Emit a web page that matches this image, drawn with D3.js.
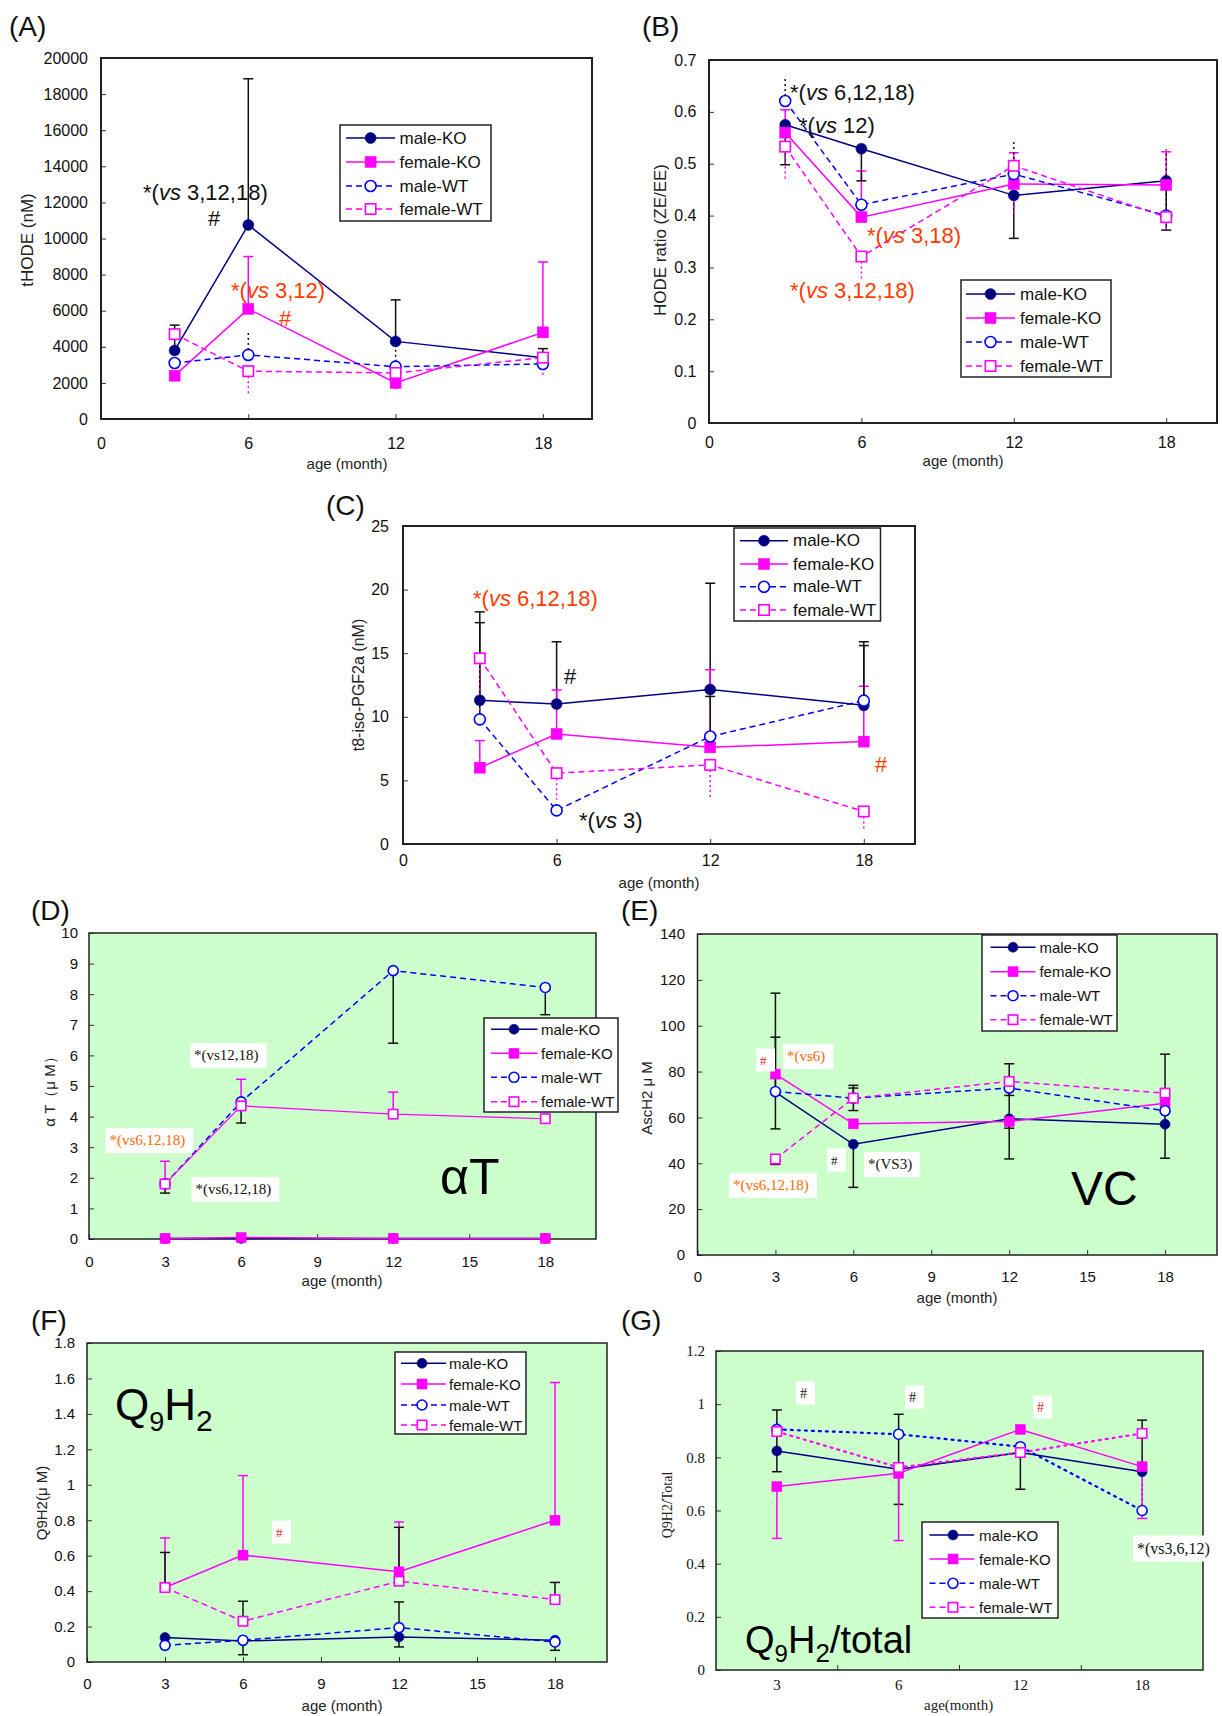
<!DOCTYPE html>
<html><head><meta charset="utf-8">
<script src="https://cdn.jsdelivr.net/npm/d3@7"></script>
<style>body{margin:0;background:#fff}</style>
</head><body>
<script>
// ---------------- DATA ----------------
const seriesNames = ["male-KO", "female-KO", "male-WT", "female-WT"];
const ages = [3, 6, 12, 18];
const xTicksWide = [0, 6, 12, 18];
const xTicksFine = [0, 3, 6, 9, 12, 15, 18];
const ageCats = ["3", "6", "12", "18"];

// (A) tHODE (nM) ; series order = seriesNames
const tHODE = [[3800, 10750, 4300, 3400], [2400, 6100, 2000, 4800], [3100, 3550, 2900, 3050], [4700, 2650, 2550, 3400]];
const tHODE_hi = [[5200, 18850, 6600, 3900], [null, 9000, null, 8700], [null, 4800, 4100, null], null];
const tHODE_lo = [null, null, null, [null, 1350, 1650, 2450]];
const tHODE_yTicks = [0, 2000, 4000, 6000, 8000, 10000, 12000, 14000, 16000, 18000, 20000];

// (B) HODE ratio (ZE/EE)
const hodeRatio = [[0.575, 0.529, 0.439, 0.467], [0.560, 0.397, 0.461, 0.459], [0.621, 0.421, 0.480, 0.400], [0.533, 0.321, 0.496, 0.397]];
const hodeRatio_hi = [null, [0.604, 0.486, 0.521, 0.523], [0.668, null, 0.547, 0.528], null];
const hodeRatio_lo = [[0.498, 0.467, 0.356, 0.372], null, null, [0.469, 0.276, 0.405, 0.372]];
const hodeRatio_yTicks = [0, 0.1, 0.2, 0.3, 0.4, 0.5, 0.6, 0.7];

// (C) t8-iso-PGF2a (nM)
const isoP = [[11.3, 11.0, 12.15, 10.9], [6.0, 8.65, 7.6, 8.05], [9.8, 2.64, 8.45, 11.27], [14.6, 5.57, 6.22, 2.56]];
const isoP_hi = [[18.25, 15.9, 20.5, 15.9], [8.13, 12.1, 13.7, 12.4], [17.4, null, 11.6, 15.6], null];
const isoP_lo = [null, null, null, [9.2, 3.48, 3.6, 1.12]];
const isoP_yTicks = [0, 5, 10, 15, 20, 25];

// (D) alpha-T (uM)
const alphaT = [[0.02, 0.02, 0.02, 0.02], [0.02, 0.05, 0.02, 0.02], [1.80, 4.48, 8.77, 8.22], [1.80, 4.35, 4.08, 3.93]];
const alphaT_hi = [null, null, null, [2.54, 5.22, 4.80, null]];
const alphaT_lo = [null, null, [1.50, 3.79, 6.40, 7.33], null];
const alphaT_yTicks = [0, 1, 2, 3, 4, 5, 6, 7, 8, 9, 10];

// (E) AscH2 (uM)
const ascH2 = [[71.0, 48.3, 59.4, 57.05], [78.9, 57.2, 58.2, 66.2], [71.3, 68.4, 72.8, 62.9], [41.9, 68.4, 75.7, 70.6]];
const ascH2_hi = [[114.2, null, 83.4, 87.6], null, [95.0, 74.0, null, null], [null, 72.8, null, null]];
const ascH2_lo = [[null, 29.5, 41.9, 42.2], [null, null, 55.3, null], [55.0, 63.0, 69.6, null], [39.5, null, null, null]];
const ascH2_yTicks = [0, 20, 40, 60, 80, 100, 120, 140];

// (F) Q9H2 (uM)
const q9h2 = [[0.138, 0.119, 0.141, 0.123], [0.42, 0.603, 0.509, 0.80], [0.094, 0.123, 0.194, 0.113], [0.42, 0.23, 0.456, 0.352]];
const q9h2_hi = [null, [0.70, 1.052, 0.79, 1.577], [null, null, 0.339, null], [0.618, 0.343, 0.76, 0.449]];
const q9h2_lo = [[null, 0.041, 0.085, 0.066], null, null, null];
const q9h2_yTicks = [0, 0.2, 0.4, 0.6, 0.8, 1, 1.2, 1.4, 1.6, 1.8];

// (G) Q9H2 / total
const q9Ratio = [[0.824, 0.755, 0.818, 0.746], [0.69, 0.74, 0.905, 0.765], [0.905, 0.887, 0.84, 0.60], [0.897, 0.762, 0.818, 0.89]];
const q9Ratio_hi = [[0.978, 0.962, null, 0.94], null, [0.943, null, null, 0.70], null];
const q9Ratio_lo = [[0.746, 0.623, 0.68, null], [0.495, 0.487, null, 0.57], null, null];
const q9Ratio_yTicks = [0, 0.2, 0.4, 0.6, 0.8, 1, 1.2];

// ---------------- STYLE ----------------
const SANS = "'Liberation Sans', Arial, sans-serif";
const SERIF = "'Liberation Serif', 'Times New Roman', serif";
const NAVY = "#000080", MAG = "#ff00ff", BLUE = "#0000ff", BLK = "#111";
const RED = "#ff3c00", ORANGE = "#ff6a00", RED2 = "#ee1c1c";
const GREEN = "#ccffcc";
const baseSty = [
  {color: NAVY, mk: "fc", dash: null},
  {color: MAG, mk: "fs", dash: null},
  {color: BLUE, mk: "oc", dash: "6,4"},
  {color: MAG, mk: "os", dash: "6,4"}
];
const fmt1 = d => d === 0 ? "0" : d.toFixed(1);
const fmtG = d => String(+d.toFixed(1));

const W = 1222, H = 1716;
const svg = d3.select("body").append("svg").attr("width", W).attr("height", H)
  .attr("font-family", SANS);

function marker(g, type, cx, cy, s, color) {
  if (type === "fc" || type === "oc") {
    g.append("circle").attr("cx", cx).attr("cy", cy).attr("r", s)
      .attr("fill", type === "fc" ? color : "#fff")
      .attr("stroke", color).attr("stroke-width", type === "fc" ? 0.5 : 1.6);
  } else {
    const h = s - (type === "os" ? 0.3 : 0);
    g.append("rect").attr("x", cx - h).attr("y", cy - h).attr("width", 2 * h).attr("height", 2 * h)
      .attr("fill", type === "fs" ? color : "#fff")
      .attr("stroke", color).attr("stroke-width", type === "fs" ? 0.5 : 1.6);
  }
}

function richText(sel, str) {
  // "_xx_" -> italic
  const parts = str.split("_");
  parts.forEach((p, i) => {
    if (!p) return;
    sel.append("tspan").text(p).attr("font-style", i % 2 ? "italic" : "normal");
  });
}

function drawPanel(cfg) {
  const {l, r, t, b} = cfg.box;
  const g = svg.append("g");
  const font = cfg.tickFont || SANS;
  if (cfg.bg) g.append("rect").attr("x", l).attr("y", t).attr("width", r - l).attr("height", b - t).attr("fill", cfg.bg);

  let x, px;
  if (cfg.cats) {
    x = d3.scaleBand().domain(cfg.cats).range([l, r]).padding(0);
    px = j => x(cfg.cats[j]) + x.bandwidth() / 2;
  } else {
    x = d3.scaleLinear().domain([0, 20]).range([l, r]);
    px = j => x(ages[j]);
  }
  const y = d3.scaleLinear().domain([0, cfg.yTicks[cfg.yTicks.length - 1]]).range([b, t]);

  // Y axis
  const ya = g.append("g").attr("transform", `translate(${l},0)`)
    .call(d3.axisLeft(y).tickValues(cfg.yTicks).tickSize(-5).tickPadding(cfg.yPad).tickFormat(cfg.yFmt || (d => String(d))));
  ya.select(".domain").remove();
  ya.selectAll("text").attr("font-family", font).attr("font-size", cfg.fs).attr("fill", "#111");
  ya.selectAll("line").attr("stroke", "#333");

  // X axis
  const xpad = cfg.xLabY - b - 0.36 * cfg.fs;
  let xa;
  if (cfg.cats) {
    xa = g.append("g").attr("transform", `translate(0,${b})`)
      .call(d3.axisBottom(x).tickSize(0).tickPadding(xpad));
    cfg.cats.slice(1).forEach(c => {
      g.append("line").attr("x1", x(c)).attr("x2", x(c)).attr("y1", b).attr("y2", b - 5).attr("stroke", "#333");
    });
  } else {
    xa = g.append("g").attr("transform", `translate(0,${b})`)
      .call(d3.axisBottom(x).tickValues(cfg.xTicks).tickSize(-5).tickPadding(xpad).tickFormat(d => String(d)));
  }
  xa.select(".domain").remove();
  xa.selectAll("text").attr("font-family", font).attr("font-size", cfg.fs).attr("fill", "#111");
  xa.selectAll("line").attr("stroke", "#333");

  // frame
  g.append("rect").attr("x", l).attr("y", t).attr("width", r - l).attr("height", b - t)
    .attr("fill", "none").attr("stroke", "#222").attr("stroke-width", cfg.frameW || 2);

  const sty = baseSty.map((s, i) => Object.assign({}, s, (cfg.styOver || [])[i] || {}));

  // lines
  const line = d3.line().x((d, j) => px(j)).y(d => y(d));
  cfg.data.forEach((vals, i) => {
    const s = sty[i];
    g.append("path").attr("d", line(vals)).attr("fill", "none").attr("stroke", s.color)
      .attr("stroke-width", s.lw || 1.5).attr("stroke-dasharray", s.dash)
      .attr("stroke-linecap", s.cap || "butt");
  });

  // error bars
  const cw = cfg.capW || 5;
  [cfg.hi, cfg.lo].forEach(arr => {
    arr.forEach((tips, i) => {
      if (!tips) return;
      const es = cfg.err[i];
      tips.forEach((tip, j) => {
        if (tip == null) return;
        const xx = px(j), y0 = y(cfg.data[i][j]), y1 = y(tip);
        g.append("line").attr("x1", xx).attr("x2", xx).attr("y1", y0).attr("y2", y1)
          .attr("stroke", es.c).attr("stroke-width", 1.5).attr("stroke-dasharray", es.dash || null);
        if (es.cap) g.append("line").attr("x1", xx - cw).attr("x2", xx + cw).attr("y1", y1).attr("y2", y1)
          .attr("stroke", es.c).attr("stroke-width", 1.5);
      });
    });
  });

  // markers
  cfg.data.forEach((vals, i) => {
    const s = sty[i];
    vals.forEach((v, j) => marker(g, s.mk, px(j), y(v), cfg.ms, s.color));
  });

  // titles
  svg.append("text").attr("x", cfg.title.x).attr("y", cfg.title.y).attr("font-size", 28).attr("fill", "#111").text(cfg.title.text);
  svg.append("text").attr("transform", `translate(${cfg.ylab.x},${cfg.ylab.y}) rotate(-90)`)
    .attr("text-anchor", "middle").attr("dominant-baseline", "central")
    .attr("font-family", cfg.ylab.font || SANS).attr("font-size", cfg.ylab.fs).attr("fill", "#222").text(cfg.ylab.text);
  svg.append("text").attr("x", cfg.xlab.x).attr("y", cfg.xlab.y).attr("text-anchor", "middle").attr("dominant-baseline", "central")
    .attr("font-family", cfg.xlab.font || SANS).attr("font-size", cfg.xlab.fs || 15).attr("fill", "#222").text(cfg.xlab.text || "age (month)");

  // big label
  if (cfg.big) cfg.big(svg);

  // legend
  const L = cfg.legend;
  svg.append("rect").attr("x", L.x0).attr("y", L.y0).attr("width", L.x1 - L.x0).attr("height", L.y1 - L.y0)
    .attr("fill", "#fff").attr("stroke", "#222").attr("stroke-width", 1.5);
  seriesNames.forEach((nm, i) => {
    const s = baseSty[i], yy = L.rows[i];
    svg.append("line").attr("x1", L.lx0).attr("x2", L.lx1).attr("y1", yy).attr("y2", yy)
      .attr("stroke", s.color).attr("stroke-width", 1.5).attr("stroke-dasharray", s.dash);
    marker(svg, s.mk, L.mx, yy, cfg.ms, s.color);
    svg.append("text").attr("x", L.tx).attr("y", yy).attr("dominant-baseline", "central")
      .attr("font-size", L.fs).attr("fill", "#111").text(nm);
  });

  // annotations
  (cfg.notes || []).forEach(n => {
    const tx = svg.append("text").attr("x", n.x).attr("y", n.y).attr("dominant-baseline", "central")
      .attr("font-family", n.font || SANS).attr("font-size", n.fs).attr("fill", n.c);
    richText(tx, n.t);
    if (n.box) {
      const bb = tx.node().getBBox();
      svg.insert("rect", () => tx.node()).attr("x", bb.x - 4).attr("y", bb.y - 4)
        .attr("width", bb.width + 12).attr("height", bb.height + 8).attr("fill", "#fff");
    }
  });
}

const errA = [{c: BLK, cap: true}, {c: MAG, cap: true}, {c: BLK, dash: "2,3"}, {c: MAG, dash: "2,3"}];

// (A)
drawPanel({
  box: {l: 101, r: 592, t: 58, b: 419}, data: tHODE, hi: tHODE_hi, lo: tHODE_lo, err: errA,
  yTicks: tHODE_yTicks, xTicks: xTicksWide, yPad: 13, xLabY: 443, fs: 16, ms: 5.5,
  title: {x: 9, y: 36, text: "(A)"}, ylab: {text: "tHODE (nM)", x: 27, y: 240, fs: 17},
  xlab: {x: 347, y: 463, fs: 15},
  legend: {x0: 340, x1: 491, y0: 125, y1: 221, rows: [138, 162, 186, 209], lx0: 346, lx1: 395, mx: 370.6, tx: 399.5, fs: 17},
  notes: [
    {t: "*(_vs_ 3,12,18)", x: 143, y: 192, c: BLK, fs: 22},
    {t: "#", x: 208, y: 218, c: BLK, fs: 22},
    {t: "*(_vs_ 3,12)", x: 231, y: 290, c: RED, fs: 22},
    {t: "#", x: 279, y: 318, c: RED, fs: 22}
  ]
});

// (B)
drawPanel({
  box: {l: 709, r: 1217, t: 60, b: 423}, data: hodeRatio, hi: hodeRatio_hi, lo: hodeRatio_lo, err: errA,
  yTicks: hodeRatio_yTicks, yFmt: fmt1, xTicks: xTicksWide, yPad: 12.5, xLabY: 442, fs: 16, ms: 5.5,
  title: {x: 642, y: 36, text: "(B)"}, ylab: {text: "HODE ratio (ZE/EE)", x: 660, y: 240, fs: 17},
  xlab: {x: 963, y: 460, fs: 15},
  legend: {x0: 961, x1: 1111, y0: 280, y1: 377, rows: [294, 318, 342, 366], lx0: 966, lx1: 1015, mx: 990.5, tx: 1020, fs: 17},
  notes: [
    {t: "*(_vs_ 6,12,18)", x: 790, y: 92, c: BLK, fs: 22},
    {t: "*(_vs_ 12)", x: 799, y: 125, c: BLK, fs: 22},
    {t: "*(_vs_ 3,18)", x: 867, y: 235, c: RED, fs: 22},
    {t: "*(_vs_ 3,12,18)", x: 790, y: 290, c: RED, fs: 22}
  ]
});

// (C)
drawPanel({
  box: {l: 403, r: 915, t: 526, b: 844}, data: isoP, hi: isoP_hi, lo: isoP_lo,
  err: [{c: BLK, cap: true}, {c: MAG, cap: true}, {c: BLK, cap: true}, {c: MAG, dash: "2,3"}],
  yTicks: isoP_yTicks, xTicks: xTicksWide, yPad: 14, xLabY: 860, fs: 16, ms: 5.5,
  title: {x: 326, y: 515, text: "(C)"}, ylab: {text: "t8-iso-PGF2a (nM)", x: 358.5, y: 685, fs: 16},
  xlab: {x: 659, y: 882, fs: 15},
  legend: {x0: 734, x1: 880.5, y0: 528, y1: 621, rows: [540.7, 564, 586.7, 610], lx0: 740, lx1: 788, mx: 764, tx: 793, fs: 17},
  notes: [
    {t: "*(_vs_ 6,12,18)", x: 473, y: 598, c: RED, fs: 22},
    {t: "#", x: 564, y: 676, c: BLK, fs: 22},
    {t: "*(_vs_ 3)", x: 579, y: 820, c: BLK, fs: 22},
    {t: "#", x: 875, y: 764, c: RED, fs: 22}
  ]
});

// (D)
drawPanel({
  box: {l: 89, r: 596, t: 933, b: 1239}, bg: GREEN, frameW: 1.5, data: alphaT, hi: alphaT_hi, lo: alphaT_lo,
  err: [{c: BLK, cap: true}, {c: MAG, cap: true}, {c: BLK, cap: true}, {c: MAG, cap: true}],
  styOver: [null, null, null, {dash: null, lw: 1.2}],
  yTicks: alphaT_yTicks, xTicks: xTicksFine, yPad: 11, xLabY: 1262, fs: 15, ms: 5,
  title: {x: 31, y: 920, text: "(D)"}, ylab: {text: "α T（μ M）", x: 49, y: 1088, fs: 15},
  xlab: {x: 342, y: 1280, fs: 15},
  legend: {x0: 484, x1: 618, y0: 1018, y1: 1112, rows: [1029.3, 1053.3, 1077.3, 1101.7], lx0: 491, lx1: 537.5, mx: 514, tx: 541, fs: 15},
  big: s => s.append("text").attr("x", 440).attr("y", 1177).attr("dominant-baseline", "central").attr("font-size", 50).attr("fill", "#000").text("αT"),
  notes: [
    {t: "*(vs12,18)", x: 194, y: 1055, c: BLK, fs: 15, font: SERIF, box: true},
    {t: "*(vs6,12,18)", x: 109.5, y: 1140, c: ORANGE, fs: 15, font: SERIF, box: true},
    {t: "*(vs6,12,18)", x: 195.5, y: 1189, c: BLK, fs: 15, font: SERIF, box: true}
  ]
});

// (E)
drawPanel({
  box: {l: 697.5, r: 1217, t: 934, b: 1255}, bg: GREEN, frameW: 1.5, data: ascH2, hi: ascH2_hi, lo: ascH2_lo,
  err: [{c: BLK, cap: true}, {c: BLK, cap: true}, {c: BLK, cap: true}, {c: BLK, cap: true}],
  yTicks: ascH2_yTicks, xTicks: xTicksFine, yPad: 12.5, xLabY: 1277, fs: 15, ms: 5,
  title: {x: 621, y: 920, text: "(E)"}, ylab: {text: "AscH2  μ M", x: 646, y: 1098, fs: 15},
  xlab: {x: 957, y: 1297, fs: 15},
  legend: {x0: 982, x1: 1117, y0: 935, y1: 1031, rows: [947.3, 971.7, 995.7, 1019.7], lx0: 990.5, lx1: 1035.5, mx: 1013, tx: 1039.4, fs: 15},
  big: s => s.append("text").attr("x", 1071).attr("y", 1188).attr("dominant-baseline", "central").attr("font-size", 48).attr("fill", "#000").text("VC"),
  notes: [
    {t: "#", x: 760, y: 1060, c: RED2, fs: 13, font: SERIF, box: true},
    {t: "*(vs6)", x: 787, y: 1056, c: ORANGE, fs: 15, font: SERIF, box: true},
    {t: "*(vs6,12,18)", x: 733, y: 1185, c: ORANGE, fs: 15, font: SERIF, box: true},
    {t: "#", x: 831, y: 1160, c: BLK, fs: 13, font: SERIF, box: true},
    {t: "*(VS3)", x: 868, y: 1164, c: BLK, fs: 15, font: SERIF, box: true}
  ]
});

// (F)
drawPanel({
  box: {l: 87, r: 607, t: 1343, b: 1662}, bg: GREEN, frameW: 1.5, data: q9h2, hi: q9h2_hi, lo: q9h2_lo,
  err: [{c: BLK, cap: true}, {c: MAG, cap: true}, {c: BLK, cap: true}, {c: BLK, cap: true}],
  yTicks: q9h2_yTicks, yFmt: fmtG, xTicks: xTicksFine, yPad: 12, xLabY: 1684, fs: 15, ms: 5,
  title: {x: 31, y: 1330, text: "(F)"}, ylab: {text: "Q9H2(μ M)", x: 41, y: 1503, fs: 15},
  xlab: {x: 342, y: 1705, fs: 15},
  legend: {x0: 395, x1: 526, y0: 1352, y1: 1434, rows: [1363.3, 1384, 1405, 1425], lx0: 401, lx1: 446, mx: 422, tx: 449, fs: 15},
  big: s => {
    const t = s.append("text").attr("x", 115).attr("y", 1420).attr("font-size", 44).attr("fill", "#000");
    t.append("tspan").text("Q");
    t.append("tspan").attr("font-size", 27).attr("dy", 11).text("9");
    t.append("tspan").attr("dy", -11).text("H");
    t.append("tspan").attr("font-size", 30).attr("dy", 11).text("2");
  },
  notes: [{t: "#", x: 276, y: 1532, c: RED2, fs: 13, font: SERIF, box: true}]
});

// (G)
drawPanel({
  box: {l: 716, r: 1203, t: 1351, b: 1670}, bg: GREEN, frameW: 1.5, data: q9Ratio, hi: q9Ratio_hi, lo: q9Ratio_lo,
  err: [{c: BLK, cap: true}, {c: MAG, cap: true}, {c: BLUE, dash: "2,3"}, {c: MAG, cap: true}],
  styOver: [null, null, {dash: "2,5", lw: 2.2, cap: "round"}, {dash: "2,5", lw: 2.2, cap: "round"}],
  cats: ageCats, tickFont: SERIF,
  yTicks: q9Ratio_yTicks, yFmt: fmtG, yPad: 11, xLabY: 1685, fs: 15, ms: 5,
  title: {x: 621, y: 1330, text: "(G)"}, ylab: {text: "Q9H2/Total", x: 667, y: 1505, fs: 14, font: SERIF},
  xlab: {x: 958.6, y: 1705, fs: 15, font: SERIF, text: "age(month)"},
  legend: {x0: 922, x1: 1058, y0: 1522, y1: 1618, rows: [1535, 1559, 1583.3, 1607.3], lx0: 929.5, lx1: 974, mx: 953, tx: 979, fs: 15},
  big: s => {
    const t = s.append("text").attr("x", 745).attr("y", 1653).attr("font-size", 38).attr("fill", "#000");
    t.append("tspan").text("Q");
    t.append("tspan").attr("font-size", 24).attr("dy", 9).text("9");
    t.append("tspan").attr("dy", -9).text("H");
    t.append("tspan").attr("font-size", 26).attr("dy", 9).text("2");
    t.append("tspan").attr("dy", -9).text("/total");
  },
  notes: [
    {t: "#", x: 800, y: 1393, c: BLK, fs: 14, font: SERIF, box: true},
    {t: "#", x: 909, y: 1397, c: BLK, fs: 14, font: SERIF, box: true},
    {t: "#", x: 1037, y: 1407, c: RED2, fs: 14, font: SERIF, box: true},
    {t: "*(vs3,6,12)", x: 1137, y: 1548, c: BLK, fs: 16, font: SERIF, box: true}
  ]
});
</script>
</body></html>
